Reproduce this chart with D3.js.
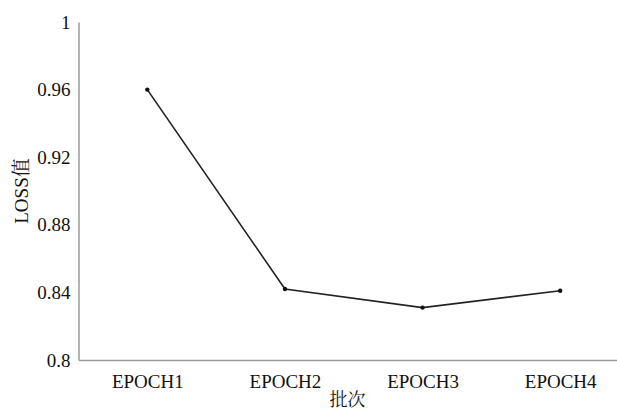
<!DOCTYPE html>
<html>
<head>
<meta charset="utf-8">
<script src="https://cdn.jsdelivr.net/npm/d3@7"></script>
</head>
<body style="margin:0;background:#fff">
<div id="chart"></div>
<script>
let width = 617,
    height = 411,
    margin = ({ top: 22, right: -12, bottom: 51, left: 78.5 }),
    font = '"Liberation Serif"',
    cjk = '"Noto Serif CJK SC"';

// data
const epochs = ["EPOCH1", "EPOCH2", "EPOCH3", "EPOCH4"];
const loss = [0.96, 0.842, 0.831, 0.841];
const yTicks = [0.8, 0.84, 0.88, 0.92, 0.96, 1];

const data = epochs.map((e, i) => ({ epoch: e, loss: loss[i] }));

const svg = d3.select("#chart")
  .append("svg")
  .attr("width", width)
  .attr("height", height);

let x = d3.scalePoint()
  .domain(epochs)
  .range([margin.left, width - margin.right])
  .padding(0.5);

let y = d3.scaleLinear()
  .domain([0.8, 1])
  .range([height - margin.bottom, margin.top]);

// x axis
let xAxis = svg.append("g")
  .attr("transform", `translate(0,${height - margin.bottom})`)
  .call(d3.axisBottom(x).tickSize(0).tickSizeOuter(0).tickPadding(15));
xAxis.select(".domain").attr("stroke", "#9a9a9a").attr("stroke-width", 1.5);
xAxis.selectAll("text").style("font-family", font).style("font-size", "19px").attr("fill", "#111");

// y axis
let yAxis = svg.append("g")
  .attr("transform", `translate(${margin.left},0)`)
  .call(d3.axisLeft(y).tickValues(yTicks).tickSize(0).tickSizeOuter(0).tickPadding(8)
    .tickFormat(d => String(+d.toFixed(2))));
yAxis.select(".domain").attr("stroke", "#9a9a9a").attr("stroke-width", 1.5);
yAxis.selectAll("text").style("font-family", font).style("font-size", "19px").attr("fill", "#111");

// line
let line = d3.line()
  .x(d => x(d.epoch))
  .y(d => y(d.loss));

svg.append("path")
  .datum(data)
  .attr("fill", "none")
  .attr("stroke", "#222")
  .attr("stroke-width", 1.6)
  .attr("d", line);

svg.selectAll("circle")
  .data(data)
  .join("circle")
  .attr("cx", d => x(d.epoch))
  .attr("cy", d => y(d.loss))
  .attr("r", 2.2)
  .attr("fill", "#111");

// axis titles
svg.append("text")
  .attr("x", 347.5)
  .attr("y", 406)
  .attr("text-anchor", "middle")
  .style("font-family", cjk)
  .style("font-size", "18px")
  .attr("fill", "#111")
  .text("批次");

let yTitle = svg.append("text")
  .attr("transform", "translate(28,191) rotate(-90)")
  .attr("text-anchor", "middle")
  .style("font-size", "19px")
  .attr("fill", "#111");
yTitle.append("tspan").style("font-family", font).text("LOSS");
yTitle.append("tspan").style("font-family", cjk).text("值");
</script>
</body>
</html>
